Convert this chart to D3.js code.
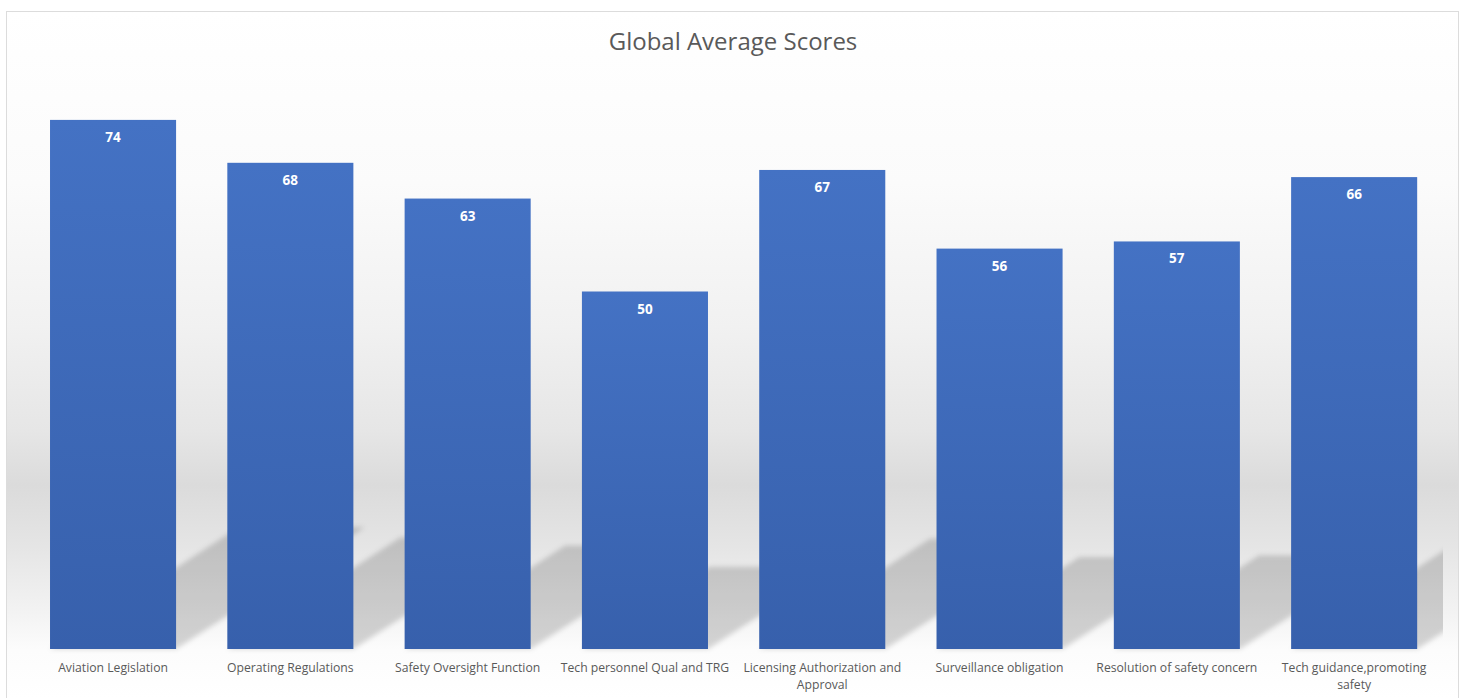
<!DOCTYPE html>
<html>
<head>
<meta charset="utf-8">
<script src="https://cdn.jsdelivr.net/npm/d3@7"></script>
<style>
  html, body { margin: 0; padding: 0; background: #ffffff; }
  svg { display: block; }
</style>
</head>
<body>
<svg id="chart" width="1466" height="698"></svg>
<script>
// Global average scores per audit area
const categories = [
  "Aviation Legislation",
  "Operating Regulations",
  "Safety Oversight Function",
  "Tech personnel Qual and TRG",
  "Licensing Authorization and Approval",
  "Surveillance obligation",
  "Resolution of safety concern",
  "Tech guidance,promoting safety"
];
const scores = [74, 68, 63, 50, 67, 56, 57, 66];
const titleText = "Global Average Scores";

const W = 1466, H = 698;
const svg = d3.select("#chart");
const defs = svg.append("defs");

// chart-area background: white fading into a soft grey band and back
const bg = defs.append("linearGradient")
  .attr("id", "bgGrad")
  .attr("gradientUnits", "userSpaceOnUse")
  .attr("x1", 0).attr("x2", 0).attr("y1", 11).attr("y2", H);
[
  [0.00, "#ffffff"], [0.25, "#fbfbfb"], [0.46, "#f1f1f1"],
  [0.61, "#e6e6e6"], [0.69, "#dbdbdb"], [0.78, "#e5e5e5"],
  [0.87, "#f2f2f2"], [0.93, "#fcfcfc"], [1.00, "#ffffff"]
].forEach(([o, c]) => bg.append("stop").attr("offset", o).attr("stop-color", c));

// bar fill
const barGrad = defs.append("linearGradient")
  .attr("id", "barGrad").attr("x1", 0).attr("x2", 0).attr("y1", 0).attr("y2", 1);
barGrad.append("stop").attr("offset", 0).attr("stop-color", "#4472c4");
barGrad.append("stop").attr("offset", 1).attr("stop-color", "#3760ac");

// soft shadow
defs.append("filter").attr("id", "soft")
  .attr("x", "-20%").attr("y", "-20%").attr("width", "140%").attr("height", "140%")
  .append("feGaussianBlur").attr("stdDeviation", 2.5);

svg.append("rect")
  .attr("x", 6.5).attr("y", 11.5).attr("width", 1452).attr("height", 700)
  .attr("fill", "url(#bgGrad)")
  .attr("stroke", "#dcdcdc").attr("stroke-width", 1);

// scales
const x = d3.scaleBand()
  .domain(categories)
  .range([24.4, 1442.8])
  .paddingInner(0.289)
  .paddingOuter(0.1445);
const y = d3.scaleLinear().domain([0, 80]).range([649, 77]);

defs.append("clipPath").attr("id", "plotClip")
  .append("rect").attr("x", 24).attr("y", 60).attr("width", 1419).attr("height", 600);

// perspective shadows cast up and to the right of each bar
const shadowScale = 0.23, shadowSlope = 0.645;
const base = y(0);
svg.append("g")
  .attr("clip-path", "url(#plotClip)")
  .append("g")
  .attr("filter", "url(#soft)")
  .selectAll("path")
  .data(categories)
  .join("path")
  .attr("fill", "#000")
  .attr("fill-opacity", 0.16)
  .attr("d", (c, i) => {
    const x0 = x(c), x1 = x(c) + x.bandwidth();
    const dy = shadowScale * (base - y(scores[i]));
    const dx = dy / shadowSlope;
    return `M${x0},${base}L${x1},${base}L${x1 + dx},${base - dy}L${x0 + dx},${base - dy}Z`;
  });

// bars
svg.append("g")
  .selectAll("rect")
  .data(categories)
  .join("rect")
  .attr("x", c => x(c))
  .attr("width", x.bandwidth())
  .attr("y", (c, i) => y(scores[i]))
  .attr("height", (c, i) => base - y(scores[i]))
  .attr("fill", "url(#barGrad)");

// value labels inside bar tops
svg.append("g")
  .selectAll("text")
  .data(categories)
  .join("text")
  .attr("x", c => x(c) + x.bandwidth() / 2)
  .attr("y", (c, i) => y(scores[i]) + 22)
  .attr("text-anchor", "middle")
  .attr("font-family", "'Open Sans', sans-serif")
  .attr("font-weight", 700)
  .attr("font-size", 13.5)
  .attr("fill", "#ffffff")
  .text((c, i) => scores[i]);

// category axis
const xAxis = svg.append("g")
  .attr("transform", `translate(0,${base})`)
  .call(d3.axisBottom(x).tickSize(0).tickPadding(0));
xAxis.select(".domain").remove();
xAxis.selectAll("text")
  .attr("font-family", "'Open Sans', sans-serif")
  .attr("font-size", 12.2)
  .attr("fill", "#595959")
  .attr("dy", null)
  .attr("y", 0)
  .each(function () { wrap(d3.select(this), x.step() - 2); });

function wrap(text, width) {
  const words = text.text().split(/\s+/);
  text.text(null);
  const lineH = 17, firstY = 23;
  let line = [];
  let tspan = text.append("tspan").attr("x", 0).attr("y", firstY);
  let n = 0;
  for (const w of words) {
    line.push(w);
    tspan.text(line.join(" "));
    if (tspan.node().getComputedTextLength() > width && line.length > 1) {
      line.pop();
      tspan.text(line.join(" "));
      line = [w];
      n++;
      tspan = text.append("tspan").attr("x", 0).attr("y", firstY + n * lineH).text(w);
    }
  }
}

// title
svg.append("text")
  .attr("x", 733)
  .attr("y", 50)
  .attr("text-anchor", "middle")
  .attr("font-family", "'Open Sans', sans-serif")
  .attr("font-size", 24)
  .attr("fill", "#595959")
  .text(titleText);
</script>
</body>
</html>
